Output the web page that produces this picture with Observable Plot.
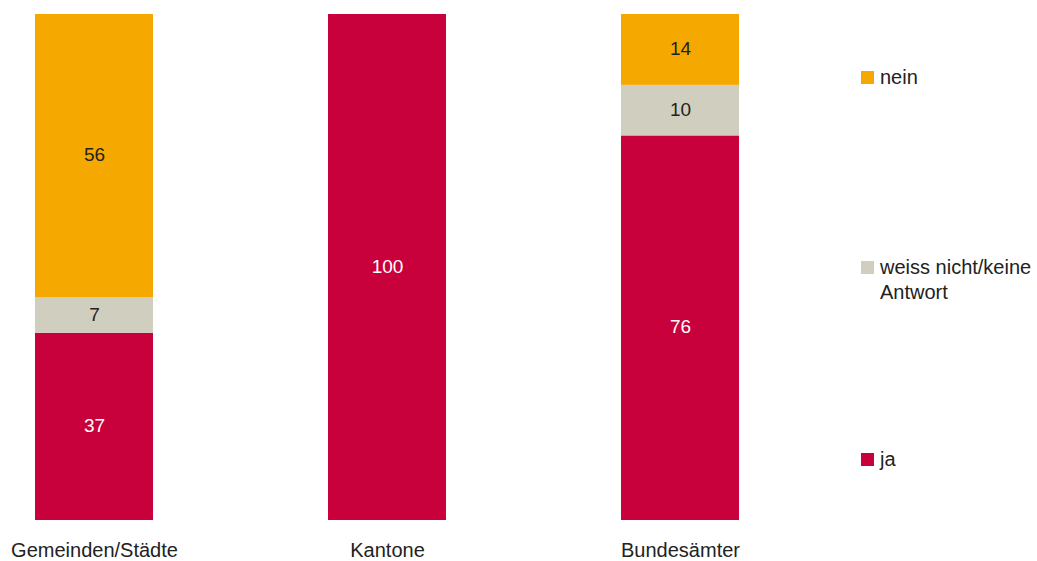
<!DOCTYPE html>
<html><head><meta charset="utf-8">
<script src="https://cdn.jsdelivr.net/npm/d3@7"></script>
<script src="https://cdn.jsdelivr.net/npm/@observablehq/plot@0.6"></script>
<style>
body{margin:0;background:#fff;font-family:"Liberation Sans",Arial,sans-serif;}
#wrap{position:relative;width:1037px;height:561px;}
.leg{position:absolute;left:861px;font-size:20px;color:#222;line-height:25px;white-space:nowrap;}
.leg .sw{position:absolute;left:0;top:6px;width:13px;height:13px;}
.leg .t{margin-left:19px;}
</style></head><body>
<div id="wrap"></div>
<script>
const categories = ["Gemeinden/Städte", "Kantone", "Bundesämter"];
const seriesNames = ["ja", "weiss nicht/keine Antwort", "nein"];
const ja = [37, 100, 76];
const weiss = [7, 0, 10];
const nein = [56, 0, 14];
const colors = ["#c8003c", "#d0cfbf", "#f5a800"];

const values = [ja, weiss, nein];
const data = [];
seriesNames.forEach((s, si) => categories.forEach((c, ci) => data.push({cat: c, series: s, si, value: values[si][ci]})));

const plot = Plot.plot({
  width: 1037, height: 561,
  marginLeft: 35, marginRight: 298, marginTop: 14, marginBottom: 41,
  x: {domain: categories, paddingInner: 0.5973, paddingOuter: 0, round: false, label: null, tickSize: 0, tickPadding: 22},
  y: {domain: [0, 100], axis: null},
  color: {domain: seriesNames, range: colors},
  style: {fontFamily: "Liberation Sans, Arial, sans-serif", fontSize: "20px", color: "#222"},
  marks: [
    Plot.barY(data, Plot.stackY({x: "cat", y: "value", fill: "series", order: seriesNames})),
    Plot.text(data, Plot.stackY({x: "cat", y: "value", z: "series", order: seriesNames,
      text: d => d.value > 0 ? String(d.value) : "",
      fill: d => d.si === 0 ? "#ffffff" : "#222222", fontSize: 19, dy: -1}))
  ]
});
document.getElementById("wrap").appendChild(plot);

const legendTops = [65, 255, 447];
const legendOrder = [2, 1, 0];
const wrap = document.getElementById("wrap");
legendOrder.forEach((si, k) => {
  const div = document.createElement("div");
  div.className = "leg";
  div.style.top = legendTops[k] + "px";
  const label = si === 1 ? "weiss nicht/keine<br>Antwort" : seriesNames[si];
  div.innerHTML = `<span class="sw" style="background:${colors[si]}"></span><div class="t">${label}</div>`;
  wrap.appendChild(div);
});
</script>
</body></html>
